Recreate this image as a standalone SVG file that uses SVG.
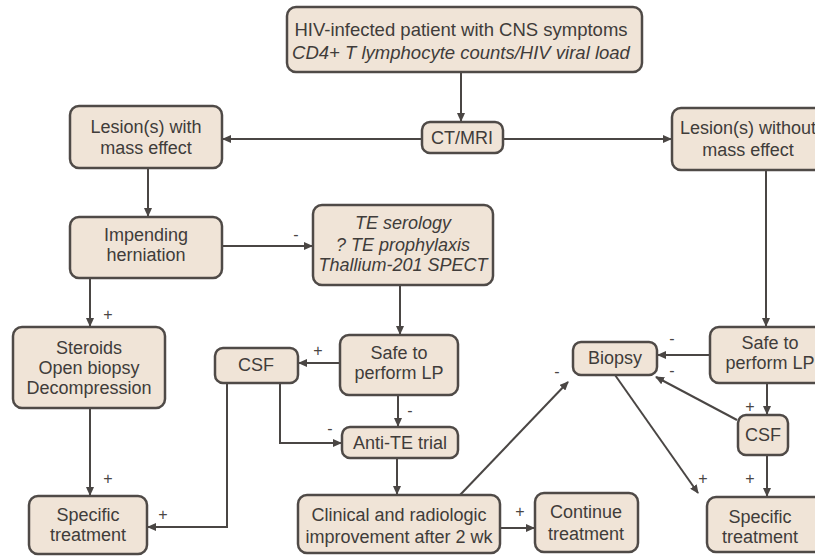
<svg xmlns="http://www.w3.org/2000/svg" width="815" height="556" viewBox="0 0 815 556">
<style>
.box{fill:#f0e4d7;stroke:#4f4a47;stroke-width:2.5}
.t{font-family:"Liberation Sans",Arial,sans-serif;font-size:18px;fill:#403c3a;text-anchor:middle}
.i{font-style:italic}
.c{fill:none;stroke:#4a4644;stroke-width:2}
.l{font-family:"Liberation Sans",Arial,sans-serif;font-size:16px;fill:#4a4644;text-anchor:middle}
</style>
<defs>
<marker id="a" markerWidth="9" markerHeight="8" refX="8" refY="4" orient="auto" markerUnits="userSpaceOnUse">
<path d="M0,0 L9,4 L0,8 Z" fill="#4a4644"/>
</marker>
</defs>
<rect width="815" height="556" fill="#ffffff"/>
<g id="connectors">
<path class="c" d="M461,72 V121" marker-end="url(#a)"/>
<path class="c" d="M422,139 H223" marker-end="url(#a)"/>
<path class="c" d="M503,139 H671" marker-end="url(#a)"/>
<path class="c" d="M148,168 V216" marker-end="url(#a)"/>
<path class="c" d="M222,246 H312" marker-end="url(#a)"/>
<path class="c" d="M90,278 V326" marker-end="url(#a)"/>
<path class="c" d="M90,408 V495" marker-end="url(#a)"/>
<path class="c" d="M400,285 V334" marker-end="url(#a)"/>
<path class="c" d="M340,363 H299" marker-end="url(#a)"/>
<path class="c" d="M398,395 V426" marker-end="url(#a)"/>
<path class="c" d="M280,383 V443 H341" marker-end="url(#a)"/>
<path class="c" d="M227,383 V527 H148" marker-end="url(#a)"/>
<path class="c" d="M397,458 V494" marker-end="url(#a)"/>
<path class="c" d="M500,528 H534" marker-end="url(#a)"/>
<path class="c" d="M460,495 L568,382" marker-end="url(#a)"/>
<path class="c" d="M766,170 V326" marker-end="url(#a)"/>
<path class="c" d="M710,355 H658" marker-end="url(#a)"/>
<path class="c" d="M767,383 V414" marker-end="url(#a)"/>
<path class="c" d="M737,420 L656,377" marker-end="url(#a)"/>
<path class="c" d="M615,375 L698,493" marker-end="url(#a)"/>
<path class="c" d="M767,455 V496" marker-end="url(#a)"/>
<text class="l" x="296" y="240">-</text>
<text class="l" x="108" y="320">+</text>
<text class="l" x="108" y="484">+</text>
<text class="l" x="318" y="356">+</text>
<text class="l" x="410" y="416">-</text>
<text class="l" x="330" y="434">-</text>
<text class="l" x="163" y="520">+</text>
<text class="l" x="520" y="517">+</text>
<text class="l" x="557" y="377">-</text>
<text class="l" x="672" y="344">-</text>
<text class="l" x="672" y="376">-</text>
<text class="l" x="750" y="412">+</text>
<text class="l" x="703" y="484">+</text>
<text class="l" x="750" y="484">+</text>
</g>
<g id="n_top"><rect class="box" x="287" y="7" width="355" height="65" rx="9"/>
<text class="t" x="461" y="36" style="font-size:18.5px">HIV-infected patient with CNS symptoms</text>
<text class="t i" x="461" y="59" style="font-size:18.5px">CD4+ T lymphocyte counts/HIV viral load</text></g>
<g id="n_ctmri"><rect class="box" x="422" y="122" width="81" height="31" rx="8"/>
<text class="t" x="462" y="144">CT/MRI</text></g>
<g id="n_lesion_with"><rect class="box" x="70" y="106" width="152" height="62" rx="9"/>
<text class="t" x="146" y="133">Lesion(s) with</text>
<text class="t" x="146" y="154">mass effect</text></g>
<g id="n_herniation"><rect class="box" x="70" y="217" width="152" height="61" rx="9"/>
<text class="t" x="146" y="241">Impending</text>
<text class="t" x="146" y="261">herniation</text></g>
<g id="n_te"><rect class="box" x="313" y="205" width="180" height="80" rx="9"/>
<text class="t i" x="403" y="229">TE serology</text>
<text class="t i" x="403" y="251">? TE prophylaxis</text>
<text class="t i" x="403" y="271">Thallium-201 SPECT</text></g>
<g id="n_safe_mid"><rect class="box" x="340" y="335" width="118" height="60" rx="9"/>
<text class="t" x="399" y="359">Safe to</text>
<text class="t" x="399" y="379">perform LP</text></g>
<g id="n_csf_mid"><rect class="box" x="215" y="348" width="83" height="35" rx="8"/>
<text class="t" x="256" y="371">CSF</text></g>
<g id="n_antite"><rect class="box" x="342" y="427" width="116" height="31" rx="8"/>
<text class="t" x="400" y="449">Anti-TE trial</text></g>
<g id="n_steroids"><rect class="box" x="13" y="327" width="152" height="81" rx="9"/>
<text class="t" x="89" y="354">Steroids</text>
<text class="t" x="89" y="374">Open biopsy</text>
<text class="t" x="89" y="394">Decompression</text></g>
<g id="n_spec_left"><rect class="box" x="29" y="496" width="118" height="58" rx="9"/>
<text class="t" x="88" y="521">Specific</text>
<text class="t" x="88" y="541">treatment</text></g>
<g id="n_clinical"><rect class="box" x="298" y="495" width="202" height="58" rx="9"/>
<text class="t" x="399" y="521">Clinical and radiologic</text>
<text class="t" x="399" y="543">improvement after 2 wk</text></g>
<g id="n_continue"><rect class="box" x="535" y="493" width="103" height="59" rx="9"/>
<text class="t" x="586" y="518">Continue</text>
<text class="t" x="586" y="540">treatment</text></g>
<g id="n_biopsy"><rect class="box" x="573" y="342" width="84" height="33" rx="8"/>
<text class="t" x="615" y="364">Biopsy</text></g>
<g id="n_lesion_without"><rect class="box" x="672" y="108" width="152" height="62" rx="9"/>
<text class="t" x="748" y="134">Lesion(s) without</text>
<text class="t" x="748" y="156">mass effect</text></g>
<g id="n_safe_right"><rect class="box" x="710" y="327" width="120" height="56" rx="9"/>
<text class="t" x="770" y="349">Safe to</text>
<text class="t" x="770" y="369">perform LP</text></g>
<g id="n_csf_right"><rect class="box" x="738" y="415" width="50" height="40" rx="8"/>
<text class="t" x="763" y="441">CSF</text></g>
<g id="n_spec_right"><rect class="box" x="707" y="497" width="120" height="55" rx="9"/>
<text class="t" x="760" y="523">Specific</text>
<text class="t" x="760" y="543">treatment</text></g>
</svg>
